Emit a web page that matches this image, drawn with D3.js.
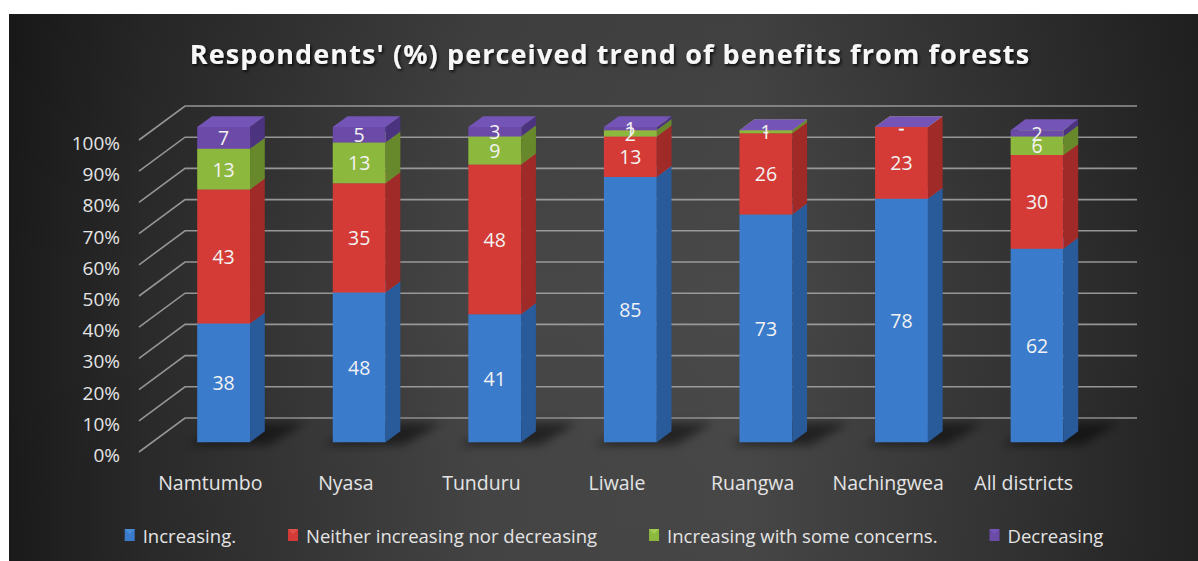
<!DOCTYPE html>
<html>
<head>
<meta charset="utf-8">
<script src="https://cdn.jsdelivr.net/npm/d3@7"></script>
<style>
  html, body { margin: 0; padding: 0; background: #ffffff; }
  svg { display: block; }
  text { font-family: "Open Sans", "DejaVu Sans", sans-serif; }
</style>
</head>
<body>
<svg id="chart" width="1198" height="561"></svg>
<script>
// Survey results: share of respondents (%) per district
const categories = ["Namtumbo", "Nyasa", "Tunduru", "Liwale", "Ruangwa", "Nachingwea", "All districts"];
const increasing = [38, 48, 41, 85, 73, 78, 62];
const neither    = [43, 35, 48, 13, 26, 23, 30];
const concerns   = [13, 13, 9, 2, 1, null, 6];
const decreasing = [7, 5, 3, 1, null, null, 2];
const seriesNames = ["Increasing.", "Neither increasing nor decreasing", "Increasing with some concerns.", "Decreasing"];
const yTicks = [0, 10, 20, 30, 40, 50, 60, 70, 80, 90, 100];
const title = "Respondents' (%) perceived trend of benefits from forests";

const seriesValues = [increasing, neither, concerns, decreasing];
const palette = [
  { front: "#3b7bcc", side: "#295a9a", top: "#4a8bd9" },
  { front: "#d43b36", side: "#a02a27", top: "#e0504a" },
  { front: "#8db83e", side: "#67892b", top: "#a2cc52" },
  { front: "#6b4aa8", side: "#4c337f", top: "#7454b6" }
];

const svg = d3.select("#chart");
const W = 1198, H = 561;
const defs = svg.append("defs");

// background gradient
const bg = defs.append("linearGradient").attr("id", "bg").attr("x1", 0).attr("x2", 1).attr("y1", 0).attr("y2", 0);
[[0, "#1b1b1b"], [0.12, "#2b2b2b"], [0.4, "#464646"], [0.62, "#494949"], [0.85, "#333333"], [1, "#232323"]]
  .forEach(([o, c]) => bg.append("stop").attr("offset", o).attr("stop-color", c));
const bgV = defs.append("linearGradient").attr("id", "bgV").attr("x1", 0).attr("x2", 0).attr("y1", 0).attr("y2", 1);
bgV.append("stop").attr("offset", 0).attr("stop-color", "#000").attr("stop-opacity", 0.12);
bgV.append("stop").attr("offset", 0.5).attr("stop-color", "#000").attr("stop-opacity", 0);
bgV.append("stop").attr("offset", 1).attr("stop-color", "#000").attr("stop-opacity", 0.04);

defs.append("filter").attr("id", "blur").attr("x", "-50%").attr("y", "-50%").attr("width", "200%").attr("height", "200%")
  .append("feGaussianBlur").attr("stdDeviation", 5);
const ts = defs.append("filter").attr("id", "tshadow").attr("x", "-10%").attr("y", "-30%").attr("width", "120%").attr("height", "160%");
ts.append("feDropShadow").attr("dx", 1.5).attr("dy", 2).attr("stdDeviation", 1.5).attr("flood-color", "#000").attr("flood-opacity", 0.8);

svg.append("rect").attr("x", 9).attr("y", 14).attr("width", W - 9).attr("height", H - 14).attr("fill", "url(#bg)");
svg.append("rect").attr("x", 9).attr("y", 14).attr("width", W - 9).attr("height", H - 14).attr("fill", "url(#bgV)");

// oblique projection: front plane coordinates plus a depth vector
const depth = { dx: 46, dy: -34 };
const barDepth = [0.29, 0.61];
const x = d3.scaleBand().domain(categories).range([142.5, 1091.5]).paddingInner(0.61).paddingOuter(0.305);
const y = d3.scaleLinear().domain([0, 100]).range([452, 140]);
const floorLeft = 139, floorRight = 1091;
const P = (xf, v, t) => [xf + t * depth.dx, y(v) + t * depth.dy];

// gridlines: diagonal on the left side wall, horizontal on the back wall
const grid = svg.append("g").attr("stroke", "#a8a8a8").attr("stroke-width", 1.6).attr("fill", "none").attr("stroke-opacity", 0.85);
grid.selectAll("path").data(yTicks).join("path")
  .attr("d", v => {
    const a = P(floorLeft, v, 0), b = P(floorLeft, v, 1), c = P(floorRight, v, 1);
    return d3.line()([a, b, c]);
  });

// y-axis labels
svg.append("g").selectAll("text").data(yTicks).join("text")
  .attr("x", 120).attr("y", v => y(v) + 3)
  .attr("text-anchor", "end").attr("dominant-baseline", "central")
  .attr("fill", "#e4e4e4").attr("font-size", 19)
  .text(v => d3.format(".0%")(v / 100));

// category labels
svg.append("g").selectAll("text").data(categories).join("text")
  .attr("x", c => x(c) + x.bandwidth() / 2).attr("y", 482)
  .attr("text-anchor", "middle").attr("dominant-baseline", "central")
  .attr("fill", "#e4e4e4").attr("font-size", 19.5)
  .text(c => c);

// floor shadows
svg.append("g").attr("filter", "url(#blur)").selectAll("path").data(categories).join("path")
  .attr("fill", "#000").attr("fill-opacity", 0.5)
  .attr("d", c => {
    const x0 = x(c) - 6, x1 = x(c) + x.bandwidth() + 22;
    return d3.line()([P(x0, 0, 0.2), P(x1, 0, 0.2), P(x1 + 8, 0, 0.85), P(x0 + 16, 0, 0.85)]) + "Z";
  });

// stacked 3D bars
const stacks = categories.map((c, i) => {
  let base = 0;
  return seriesValues.map((vals, s) => {
    const v = vals[i];
    const seg = { cat: c, s, v, y0: base, y1: base + (v || 0) };
    base = seg.y1;
    return seg;
  });
});

const bars = svg.append("g");
stacks.forEach(segs => {
  const g = bars.append("g");
  segs.forEach(seg => {
    const x0 = x(seg.cat), x1 = x0 + x.bandwidth();
    const [t0, t1] = barDepth;
    const col = palette[seg.s];
    const poly = pts => d3.line()(pts) + "Z";
    if (seg.v) {
      g.append("path").attr("fill", col.front)
        .attr("d", poly([P(x0, seg.y0, t0), P(x1, seg.y0, t0), P(x1, seg.y1, t0), P(x0, seg.y1, t0)]));
      g.append("path").attr("fill", col.side)
        .attr("d", poly([P(x1, seg.y0, t0), P(x1, seg.y0, t1), P(x1, seg.y1, t1), P(x1, seg.y1, t0)]));
    }
    // a lid is drawn even for empty segments, so the top series colour caps every bar
    g.append("path").attr("fill", col.top)
      .attr("d", poly([P(x0, seg.y1, t0), P(x1, seg.y1, t0), P(x1, seg.y1, t1), P(x0, seg.y1, t1)]));
  });
});

// value labels on the front faces
const labels = stacks.flat();
svg.append("g").selectAll("text").data(labels).join("text")
  .attr("x", d => P(x(d.cat) + x.bandwidth() / 2, 0, barDepth[0])[0])
  .attr("y", d => P(0, (d.y0 + d.y1) / 2, barDepth[0])[1])
  .attr("text-anchor", "middle").attr("dominant-baseline", "central")
  .attr("fill", "#f2f2f2").attr("font-size", 19.5)
  .text(d => d.v == null ? "-" : d.v);

// title
svg.append("text")
  .attr("x", 610).attr("y", 53)
  .attr("text-anchor", "middle").attr("dominant-baseline", "central")
  .attr("fill", "#f7f7f7").attr("font-size", 27).attr("font-weight", 700)
  .attr("letter-spacing", 1.1)
  .attr("filter", "url(#tshadow)")
  .text(title);

// legend
const legend = svg.append("g");
const items = legend.selectAll("g").data(seriesNames).join("g");
items.append("rect").attr("width", 10).attr("height", 12).attr("y", -6)
  .attr("fill", (d, i) => palette[i].front);
items.append("path").attr("d", "M0,-6 L10,-6 L5,-1 Z").attr("fill", (d, i) => palette[i].top);
items.append("text").attr("x", 18).attr("dominant-baseline", "central")
  .attr("fill", "#e4e4e4").attr("font-size", 18.5).text(d => d);
let lx = 0;
const gap = 52;
items.each(function () {
  const w = this.getBBox().width;
  d3.select(this).attr("transform", `translate(${lx},535)`);
  lx += w + gap;
});
const total = lx - gap;
legend.attr("transform", `translate(${614 - total / 2},0)`);
</script>
</body>
</html>
